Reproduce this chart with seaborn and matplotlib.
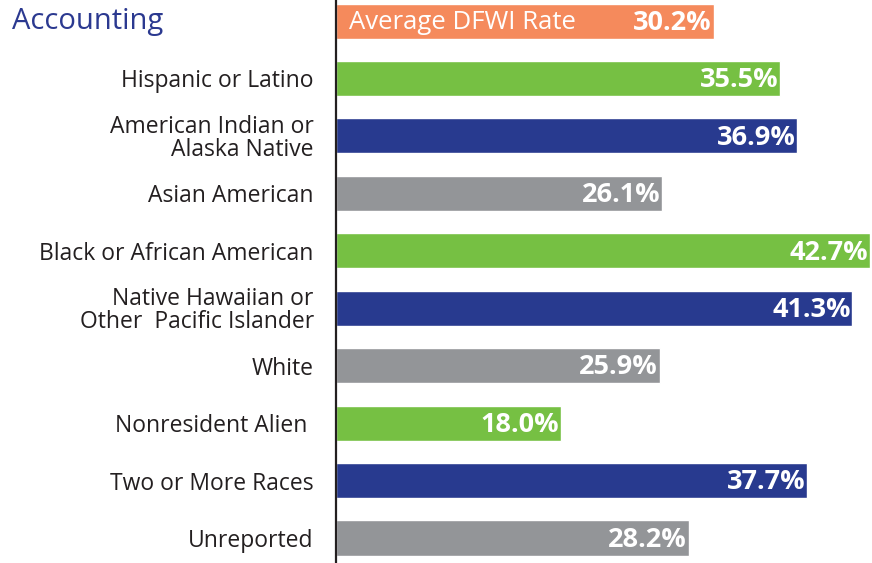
import matplotlib
matplotlib.use("Agg")
from matplotlib import pyplot as plt
import seaborn as sns
import pandas as pd

# data
groups = ['Average DFWI Rate', 'Hispanic or Latino', 'American Indian or\nAlaska Native',
          'Asian American', 'Black or African American', 'Native Hawaiian or\nOther  Pacific Islander',
          'White', 'Nonresident Alien ', 'Two or More Races', 'Unreported']
rates = [30.2, 35.5, 36.9, 26.1, 42.7, 41.3, 25.9, 18.0, 37.7, 28.2]
bar_colors = ['#F58A5C', '#76C043', '#283A8F', '#939598', '#76C043',
              '#283A8F', '#939598', '#76C043', '#283A8F', '#939598']

df = pd.DataFrame({'group': groups, 'rate': rates})

sns.set_style('white')
plt.rcParams['font.family'] = ['Open Sans', 'DejaVu Sans']

fig = plt.figure(figsize=(8.72, 5.63), dpi=100)
ax = fig.add_axes([336 / 872, 0, 1 - 338 / 872, 1])

sns.barplot(data=df, y='group', x='rate', hue='group', palette=bar_colors,
            orient='h', width=0.61, legend=False, ax=ax, saturation=1)

ax.set_xlim(0, 42.7)
ax.set_ylim(9.435, -0.366)
ax.set_xlabel('')
ax.set_ylabel('')
ax.set_xticks([])
sns.despine(ax=ax, top=True, right=True, bottom=True)
ax.spines['left'].set_color('#231F20')
ax.spines['left'].set_linewidth(1.6)

ticklabels = [''] + groups[1:]
ax.set_yticks(range(len(groups)))
ax.set_yticklabels(ticklabels, fontsize=16.5, color='#231F20', linespacing=0.95)
ax.tick_params(axis='y', length=0, pad=16)

for i, v in enumerate(rates):
    ax.text(v - 0.15, i + 0.03, f'{v:.1f}%', ha='right', va='center',
            color='white', fontsize=19.5, fontweight='bold')

ax.text(1.0, 0.03, 'Average DFWI Rate', ha='left', va='center', color='white', fontsize=18.5)
fig.text(12 / 872, 1 - 22 / 563, 'Accounting', ha='left', va='center', color='#2B3990', fontsize=21)

fig.savefig('out.png', dpi=100)
